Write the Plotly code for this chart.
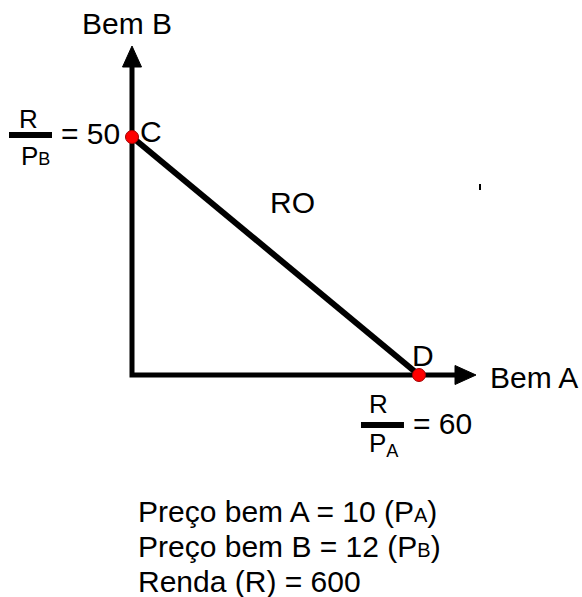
import plotly.graph_objects as go

# dados do gráfico (restrição orçamentária)
bens = ["Bem A", "Bem B"]
precos = [10, 12]          # P_A, P_B
renda = 600                # R
qtd_max = [60, 50]         # R/P_A, R/P_B
pontos = ["C", "D"]
rotulo_reta = "RO"

FONT = "Liberation Sans, Arial, sans-serif"
W, H = 582, 597
ox, oy = 132, 375          # origem em pixels
sx, sy = 4.783, 4.76       # pixels por unidade


def X(px):
    return (px - ox) / sx


def Y(py):
    return (oy - py) / sy


fig = go.Figure()

# eixos
fig.add_trace(go.Scatter(
    x=[0, 0, X(457)], y=[Y(65), 0, 0],
    mode="lines", line=dict(color="black", width=5),
    hoverinfo="skip"
))

# pontas das setas
fig.add_trace(go.Scatter(
    x=[X(122.5), X(141.5), 0, X(122.5)], y=[Y(67), Y(67), Y(46), Y(67)],
    mode="lines", fill="toself", fillcolor="black",
    line=dict(color="black", width=1), hoverinfo="skip"
))
fig.add_trace(go.Scatter(
    x=[X(455), X(455), X(476), X(455)], y=[Y(365.5), Y(384.5), 0, Y(365.5)],
    mode="lines", fill="toself", fillcolor="black",
    line=dict(color="black", width=1), hoverinfo="skip"
))

# reta orçamentária
fig.add_trace(go.Scatter(
    x=[0, qtd_max[0]], y=[qtd_max[1], 0],
    mode="lines", line=dict(color="black", width=6),
    hoverinfo="skip"
))

# pontos C e D
fig.add_trace(go.Scatter(
    x=[0, qtd_max[0]], y=[qtd_max[1], 0],
    mode="markers",
    marker=dict(color="#ff0000", size=13, line=dict(color="#a00000", width=1)),
    hoverinfo="skip"
))


def lab(text, x, y, dx, dy, size=30, xanchor="center"):
    return dict(x=x, y=y, xref="x", yref="y", text=text, showarrow=False,
                xshift=dx, yshift=dy, xanchor=xanchor, yanchor="middle",
                font=dict(size=size, color="black", family=FONT))


x_tip, y_tip = X(476), Y(46)
ann = [
    lab(bens[1], 0, y_tip, -5, 23),
    lab(bens[0], x_tip, 0, 12, -2.5, xanchor="left"),
    lab(pontos[0], 0, qtd_max[1], 19, 6),
    lab(pontos[1], qtd_max[0], 0, 4, 20),
    lab(rotulo_reta, qtd_max[0] / 2, qtd_max[1] / 2, 17.5, 54),
    lab("= %d" % qtd_max[1], 0, qtd_max[1], -42, 4),
    lab("R", 0, qtd_max[1], -104, 18, size=26),
    lab('P<span style="font-size:18px">B</span>', 0, qtd_max[1], -97, -19, size=26),
    lab("= %d" % qtd_max[0], qtd_max[0], 0, 23.5, -48.5),
    lab("R", qtd_max[0], 0, -40, -29, size=26),
    lab("P<sub>A</sub>", qtd_max[0], 0, -35, -69, size=26),
]

linhas = [
    'Preço bem A = %d (P<span style="font-size:20px">A</span>)' % precos[0],
    'Preço bem B = %d (P<span style="font-size:20px">B</span>)' % precos[1],
    "Renda (R) = %d" % renda,
]
for i, t in enumerate(linhas):
    ann.append(dict(x=136 / W, y=1 - (511 + 35 * i) / H, xref="paper", yref="paper",
                    text=t, showarrow=False, xanchor="left", yanchor="middle",
                    font=dict(size=30, color="black", family=FONT)))

shapes = [
    # barras das frações
    dict(type="line", xref="x", yref="y", xsizemode="pixel", ysizemode="pixel",
         xanchor=0, yanchor=qtd_max[1], x0=-123, x1=-80, y0=2, y1=2,
         line=dict(color="black", width=6)),
    dict(type="line", xref="x", yref="y", xsizemode="pixel", ysizemode="pixel",
         xanchor=qtd_max[0], yanchor=0, x0=-58, x1=-15, y0=-50, y1=-50,
         line=dict(color="black", width=6)),
    # pequeno traço solto
    dict(type="line", xref="paper", yref="paper", x0=480 / W, x1=480 / W,
         y0=1 - 184 / H, y1=1 - 190 / H, line=dict(color="black", width=2)),
]

fig.update_layout(
    width=W, height=H,
    margin=dict(l=0, r=0, t=0, b=0),
    paper_bgcolor="white", plot_bgcolor="white",
    showlegend=False,
    xaxis=dict(range=[X(0), X(W)], visible=False, fixedrange=True),
    yaxis=dict(range=[Y(H), Y(0)], visible=False, fixedrange=True),
    annotations=ann,
    shapes=shapes,
)

fig.write_html("out.html", config={"displayModeBar": False},
               post_script="document.body.style.margin='0';")
